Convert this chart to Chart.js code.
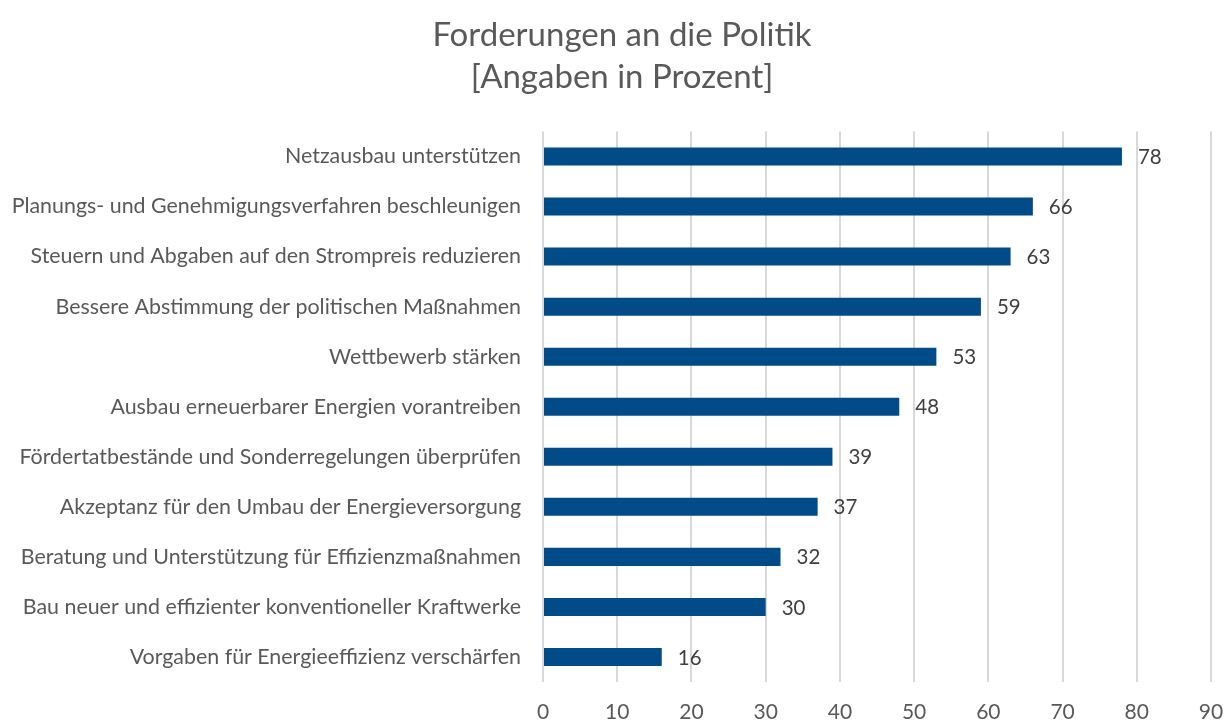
<!DOCTYPE html>
<html>
<head>
<meta charset="utf-8">
<script src="https://cdn.jsdelivr.net/npm/chart.js@4"></script>
<style>
  html, body { margin: 0; padding: 0; background: #fff; }
  #wrap { width: 1225px; height: 720px; }
</style>
</head>
<body>
<div id="wrap"><canvas id="barChart" width="1225" height="720"></canvas></div>
<script>
const titleLines = ['Forderungen an die Politik', '[Angaben in Prozent]'];
const categories = [
    'Netzausbau unterstützen',
    'Planungs- und Genehmigungsverfahren beschleunigen',
    'Steuern und Abgaben auf den Strompreis reduzieren',
    'Bessere Abstimmung der politischen Maßnahmen',
    'Wettbewerb stärken',
    'Ausbau erneuerbarer Energien vorantreiben',
    'Fördertatbestände und Sonderregelungen überprüfen',
    'Akzeptanz für den Umbau der Energieversorgung',
    'Beratung und Unterstützung für Effizienzmaßnahmen',
    'Bau neuer und effizienter konventioneller Kraftwerke',
    'Vorgaben für Energieeffizienz verschärfen'
];
const values = [78, 66, 63, 59, 53, 48, 39, 37, 32, 30, 16];
const xMin = 0, xMax = 90, xStep = 10;

const fontFamily = 'Lato, "Open Sans", sans-serif';
const textColor = '#595959';

// draws the numbers right of each bar
const valueLabels = {
    id: 'valueLabels',
    afterDatasetsDraw(chart) {
        const { ctx } = chart;
        const meta = chart.getDatasetMeta(0);
        ctx.save();
        ctx.font = '20.5px ' + fontFamily;
        ctx.fillStyle = '#404040';
        ctx.textAlign = 'left';
        ctx.textBaseline = 'middle';
        meta.data.forEach((bar, i) => {
            ctx.fillText(String(values[i]), bar.x + 16, bar.y + 1);
        });
        ctx.restore();
    }
};

// title in the original sits a bit right of the canvas centre
const titleShift = {
    id: 'titleShift',
    afterLayout(chart) {
        if (chart.titleBlock) chart.titleBlock.left = 33;
    }
};

const ctx = document.getElementById('barChart').getContext('2d');
new Chart(ctx, {
    type: 'bar',
    data: {
        labels: categories,
        datasets: [{
            data: values,
            backgroundColor: '#024b89',
            borderWidth: 0,
            barPercentage: 0.36,
            categoryPercentage: 1
        }]
    },
    options: {
        indexAxis: 'y',
        responsive: false,
        animation: false,
        layout: { padding: { left: 0, right: 14, top: 0, bottom: 0 } },
        plugins: {
            legend: { display: false },
            tooltip: { enabled: false },
            title: {
                display: true,
                text: titleLines,
                color: textColor,
                font: { family: fontFamily, size: 33, weight: 'normal', lineHeight: 1.28 },
                padding: { top: 14, bottom: 33 }
            }
        },
        scales: {
            x: {
                min: xMin,
                max: xMax,
                ticks: {
                    stepSize: xStep,
                    color: textColor,
                    font: { family: fontFamily, size: 21 },
                    padding: 18
                },
                grid: { color: '#d9d9d9', lineWidth: 2, drawTicks: false },
                border: { display: false },
                afterFit(scale) {
                    scale.height = 38;
                    scale.paddingLeft = 0;
                    scale.paddingRight = 0;
                }
            },
            y: {
                ticks: {
                    color: textColor,
                    font: { family: fontFamily, size: 21.4 },
                    padding: 22
                },
                grid: { display: false, drawTicks: false },
                border: { display: false },
                afterFit(scale) { scale.width = 543; }
            }
        }
    },
    plugins: [valueLabels, titleShift]
});
</script>
</body>
</html>
